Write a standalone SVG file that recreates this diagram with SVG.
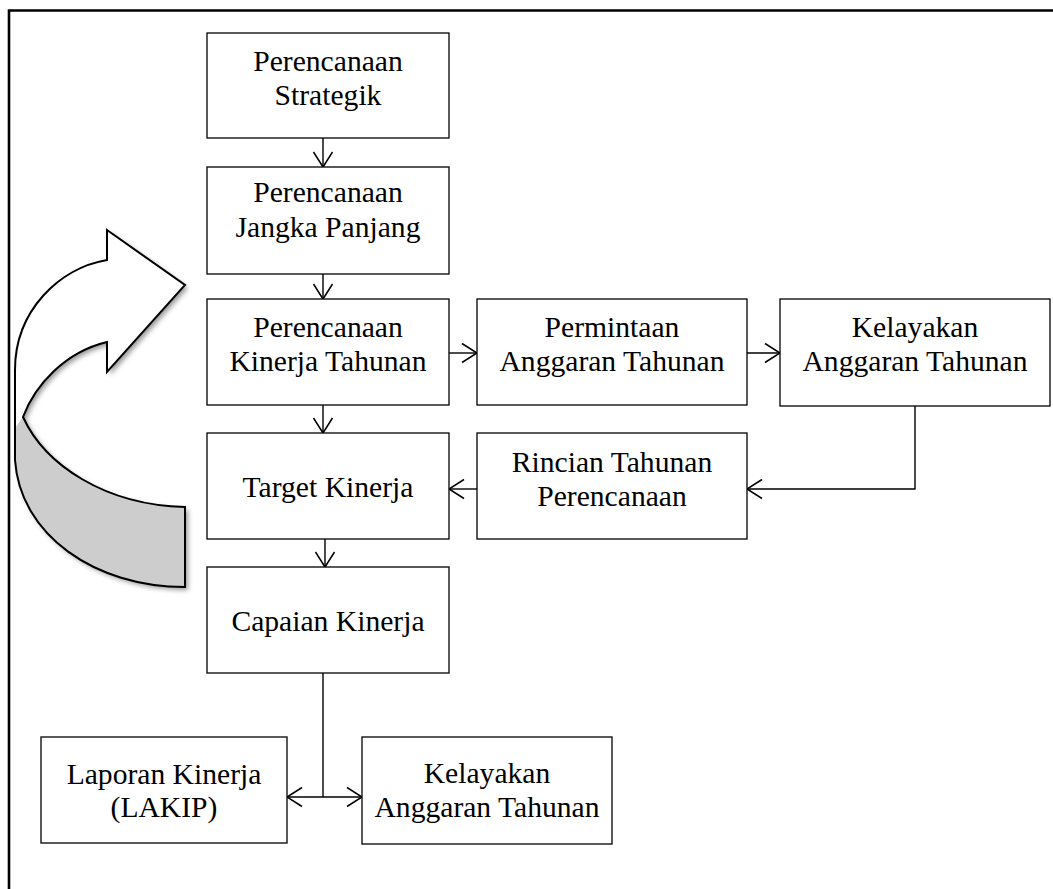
<svg xmlns="http://www.w3.org/2000/svg" width="1053" height="889" viewBox="0 0 1053 889">
<style>
.box{fill:#fff;stroke:#000;stroke-width:1.3}
.t{font-family:"Liberation Serif","Times New Roman",serif;font-size:29.6px;fill:#000;text-anchor:middle}
.c{fill:none;stroke:#000;stroke-width:1.4}
</style>
<defs>
<marker id="ah" viewBox="-17 -11 19 22" refX="0" refY="0" markerWidth="19" markerHeight="22" markerUnits="userSpaceOnUse" orient="auto-start-reverse">
<path d="M-15,-9.5 L0,0 L-15,9.5" fill="none" stroke="#000" stroke-width="1.5"/>
</marker>
<filter id="sh" x="-20%" y="-20%" width="150%" height="150%">
<feDropShadow dx="3" dy="3" stdDeviation="2.5" flood-color="#000" flood-opacity="0.4"/>
</filter>
</defs>
<rect width="1053" height="889" fill="#fff"/>
<path d="M9,889 V10.5 H1053" fill="none" stroke="#000" stroke-width="2.6"/>

<g id="loop-arrow">
<path d="M107,230 L185,285 L107,372 L107,342 C65,352 35,385 23,417 C45,465 105,505 185,507 L185,587 C95,587 20,535 15,460 L15,370 C15,310 60,268 107,260 Z" fill="#fff" filter="url(#sh)"/>
<path d="M23,417 C45,465 105,505 185,507 L185,587 C95,587 20,535 15,460 L15,428 Z" fill="#cdcdcd"/>
<path d="M107,230 L185,285 L107,372 L107,342 C65,352 35,385 23,417 C45,465 105,505 185,507 L185,587 C95,587 20,535 15,460 L15,370 C15,310 60,268 107,260 Z" fill="none" stroke="#000" stroke-width="2" stroke-linejoin="miter"/>
</g>

<g id="connectors">
<path class="c" d="M323,138 V167" marker-end="url(#ah)"/>
<path class="c" d="M323,274 V299" marker-end="url(#ah)"/>
<path class="c" d="M449,353 H477" marker-end="url(#ah)"/>
<path class="c" d="M747,353 H780" marker-end="url(#ah)"/>
<path class="c" d="M323,405 V433" marker-end="url(#ah)"/>
<path class="c" d="M915,406 V489 H747" marker-end="url(#ah)"/>
<path class="c" d="M477,489 H449" marker-end="url(#ah)"/>
<path class="c" d="M325,539 V567" marker-end="url(#ah)"/>
<path class="c" d="M323,673 V797"/>
<path class="c" d="M287,797 H362" marker-start="url(#ah)" marker-end="url(#ah)"/>
</g>

<g id="n-strategik">
<rect class="box" x="207" y="33" width="242" height="105"/>
<text class="t" x="328" y="71">Perencanaan</text>
<text class="t" x="328" y="105">Strategik</text>
</g>
<g id="n-jangka">
<rect class="box" x="207" y="167" width="242" height="107"/>
<text class="t" x="328" y="202">Perencanaan</text>
<text class="t" x="328" y="237">Jangka Panjang</text>
</g>
<g id="n-kinerja-tahunan">
<rect class="box" x="207" y="299" width="242" height="106"/>
<text class="t" x="328" y="337">Perencanaan</text>
<text class="t" x="328" y="371">Kinerja Tahunan</text>
</g>
<g id="n-permintaan">
<rect class="box" x="477" y="299" width="270" height="106"/>
<text class="t" x="612" y="337">Permintaan</text>
<text class="t" x="612" y="371">Anggaran Tahunan</text>
</g>
<g id="n-kelayakan1">
<rect class="box" x="780" y="299" width="270" height="107"/>
<text class="t" x="915" y="337">Kelayakan</text>
<text class="t" x="915" y="371">Anggaran Tahunan</text>
</g>
<g id="n-target">
<rect class="box" x="207" y="433" width="242" height="106"/>
<text class="t" x="328" y="497">Target Kinerja</text>
</g>
<g id="n-rincian">
<rect class="box" x="477" y="433" width="270" height="106"/>
<text class="t" x="612" y="472">Rincian Tahunan</text>
<text class="t" x="612" y="506">Perencanaan</text>
</g>
<g id="n-capaian">
<rect class="box" x="207" y="567" width="242" height="106"/>
<text class="t" x="328" y="631">Capaian Kinerja</text>
</g>
<g id="n-laporan">
<rect class="box" x="41" y="737" width="246" height="106"/>
<text class="t" x="164" y="784">Laporan Kinerja</text>
<text class="t" x="164" y="817">(LAKIP)</text>
</g>
<g id="n-kelayakan2">
<rect class="box" x="362" y="737" width="250" height="107"/>
<text class="t" x="487" y="783">Kelayakan</text>
<text class="t" x="487" y="817">Anggaran Tahunan</text>
</g>
</svg>
